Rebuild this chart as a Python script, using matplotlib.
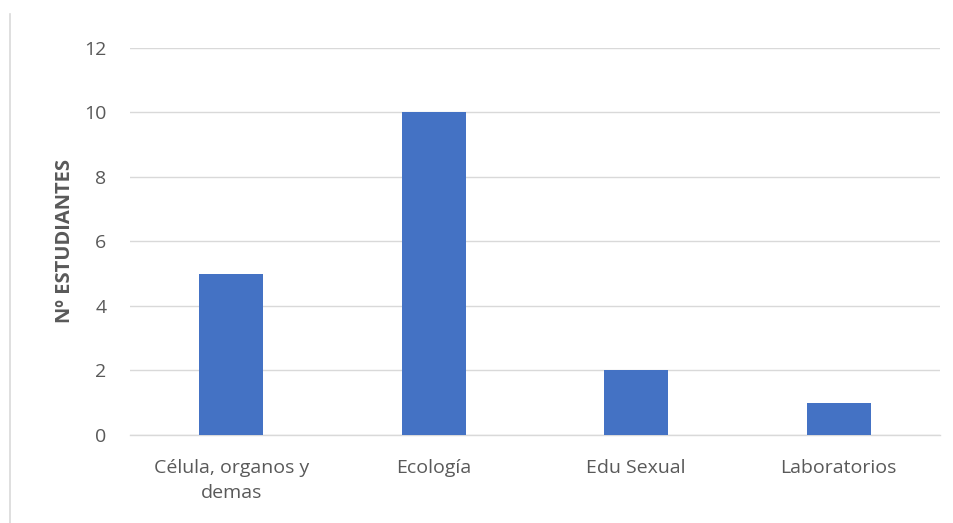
import matplotlib
matplotlib.use("Agg")
import matplotlib.pyplot as plt
from matplotlib.lines import Line2D

# Data
categorias = ["Célula, organos y\ndemas", "Ecología", "Edu Sexual", "Laboratorios"]
estudiantes = [5, 10, 2, 1]
yticks = [0, 2, 4, 6, 8, 10, 12]

gris = "#595959"
plt.rcParams['font.family'] = ['Open Sans', 'DejaVu Sans']

fig = plt.figure(figsize=(9.54, 5.23), dpi=100)
ax = fig.add_axes([0.1363, 0.1683, 0.849, 0.74])

x = range(len(categorias))
ax.bar(x, estudiantes, width=0.316, color="#4472C4", zorder=3)

ax.set_xlim(-0.5, len(categorias) - 0.5)
ax.set_ylim(0, 12)
ax.set_yticks(yticks)
ax.yaxis.grid(True, color="#d9d9d9", linewidth=1, zorder=0)
for s in ["top", "right", "left"]:
    ax.spines[s].set_visible(False)
ax.spines["bottom"].set_color("#d9d9d9")
ax.spines["bottom"].set_linewidth(1)
ax.tick_params(axis="both", length=0, colors=gris, labelsize=14)
ax.tick_params(axis="y", pad=17)
ax.set_xticks(list(x))
ax.set_xticklabels(categorias, va="top", linespacing=1.55)
ax.tick_params(axis="x", pad=17)

ax.set_ylabel("Nº ESTUDIANTES", color=gris, fontsize=14.5, fontweight="bold")
ax.yaxis.set_label_coords(-0.068, 0.5)

# borde izquierdo del recuadro
fig.add_artist(Line2D([10 / 954, 10 / 954], [0, 1 - 14 / 523], transform=fig.transFigure,
                      color="#d9d9d9", linewidth=1.2))

fig.savefig("out.png", dpi=100)
